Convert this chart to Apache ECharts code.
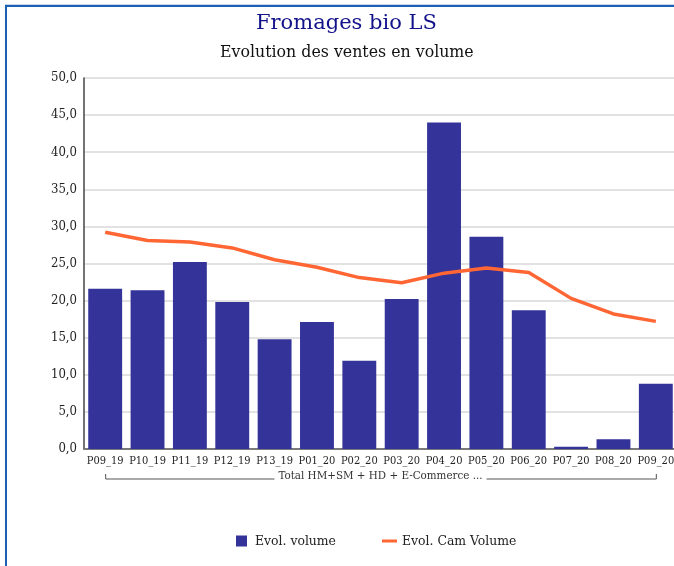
<!DOCTYPE html>
<html>
<head>
<meta charset="utf-8">
<script src="https://cdn.jsdelivr.net/npm/echarts@6/dist/echarts.min.js"></script>
<style>
  html, body { margin: 0; padding: 0; background: #fff; overflow: hidden; width: 674px; height: 566px; }
  #frame { position: absolute; left: 5px; top: 5px; width: 700px; height: 600px;
           border-left: 2px solid #1c60b3; border-top: 2px solid #1c60b3; box-shadow: 0 -1px 0 #c9d6e8; }
  #chart { position: absolute; left: 0; top: 0; width: 700px; height: 566px; }
</style>
</head>
<body>
<div id="frame"></div>
<div id="chart"></div>
<script>
const categories = ['P09_19','P10_19','P11_19','P12_19','P13_19','P01_20','P02_20','P03_20','P04_20','P05_20','P06_20','P07_20','P08_20','P09_20'];
const evolVolume = [21.6, 21.4, 25.2, 19.8, 14.8, 17.1, 11.9, 20.2, 44.0, 28.6, 18.7, 0.3, 1.3, 8.8];
const evolCamVolume = [29.2, 28.1, 27.9, 27.1, 25.5, 24.5, 23.1, 22.4, 23.7, 24.4, 23.8, 20.3, 18.2, 17.2];
const groupLabel = 'Total HM+SM + HD + E-Commerce ...';
const yTicks = { min: 0, max: 50, interval: 5 };

const FONT = '"DejaVu Serif Condensed", "DejaVu Serif", serif';
const TFONT = '"DejaVu Serif", serif';
const chart = echarts.init(document.getElementById('chart'), null, { renderer: 'canvas' });

const option = {
  animation: false,
  backgroundColor: 'transparent',
  title: [
    { text: 'Fromages bio LS', left: 256, top: 13, padding: 0,
      textStyle: { fontFamily: TFONT, fontSize: 21, fontWeight: 'normal', color: '#12128a' } },
    { text: 'Evolution des ventes en volume', left: 220, top: 45, padding: 0,
      textStyle: { fontFamily: TFONT, fontSize: 15.8, fontWeight: 'normal', color: '#111' } }
  ],
  legend: [
    { data: [{ name: 'Evol. volume', icon: 'rect' }], left: 236, top: 534, padding: 0,
      itemWidth: 11, itemHeight: 11, selectedMode: false,
      textStyle: { fontFamily: FONT, fontSize: 13.8, color: '#222', padding: [0, 0, 0, 3] } },
    { data: [{ name: 'Evol. Cam Volume', icon: 'rect' }], left: 382, top: 534, padding: 0,
      itemWidth: 15, itemHeight: 3, selectedMode: false,
      textStyle: { fontFamily: FONT, fontSize: 13.8, color: '#222' } }
  ],
  grid: { left: 84, top: 78, width: 593, height: 371, containLabel: false },
  xAxis: {
    type: 'category', data: categories,
    axisLine: { lineStyle: { color: '#7a7a7a', width: 2 } },
    axisTick: { show: false },
    axisLabel: { interval: 0, margin: 7, fontFamily: FONT, fontSize: 11, color: '#222' }
  },
  yAxis: {
    type: 'value', min: yTicks.min, max: yTicks.max, interval: yTicks.interval,
    axisLine: { show: true, lineStyle: { color: '#444', width: 1.5 } },
    axisTick: { show: false },
    splitLine: { lineStyle: { color: '#d8d8d8', width: 1.5 } },
    axisLabel: { margin: 7, fontFamily: FONT, fontSize: 13, color: '#222',
      formatter: v => v.toFixed(1).replace('.', ',') }
  },
  series: [
    { name: 'Evol. volume', type: 'bar', data: evolVolume, barWidth: '80%',
      itemStyle: { color: '#333399' } },
    { name: 'Evol. Cam Volume', type: 'line', data: evolCamVolume, symbol: 'none',
      lineStyle: { color: '#ff6633', width: 3.5 }, itemStyle: { color: '#ff6633' }, z: 5 }
  ]
};
chart.setOption(option);

// group bracket under the category labels, positioned from the axis scale
const x0 = chart.convertToPixel({ xAxisIndex: 0 }, categories[0]);
const x1 = chart.convertToPixel({ xAxisIndex: 0 }, categories[categories.length - 1]);
const yBase = chart.convertToPixel({ yAxisIndex: 0 }, 0);
const GFONT = '11.5px ' + FONT;
const ctx = document.createElement('canvas').getContext('2d');
ctx.font = GFONT;
const tw = ctx.measureText(groupLabel).width;
const cx = (x0 + x1) / 2;
const ly = yBase + 30;
const gap = 4;
chart.setOption({
  graphic: [
    { type: 'polyline', silent: true, shape: { points: [[x0 + 0.5, ly - 5], [x0 + 0.5, ly], [cx - tw / 2 - gap, ly]] },
      style: { stroke: '#555', lineWidth: 1, fill: null } },
    { type: 'polyline', silent: true, shape: { points: [[cx + tw / 2 + gap, ly], [x1 + 0.5, ly], [x1 + 0.5, ly - 5]] },
      style: { stroke: '#555', lineWidth: 1, fill: null } },
    { type: 'text', silent: true, x: cx, y: ly - 3,
      style: { text: groupLabel, font: GFONT, fill: '#333', align: 'center', verticalAlign: 'middle' } }
  ]
});
</script>
</body>
</html>
